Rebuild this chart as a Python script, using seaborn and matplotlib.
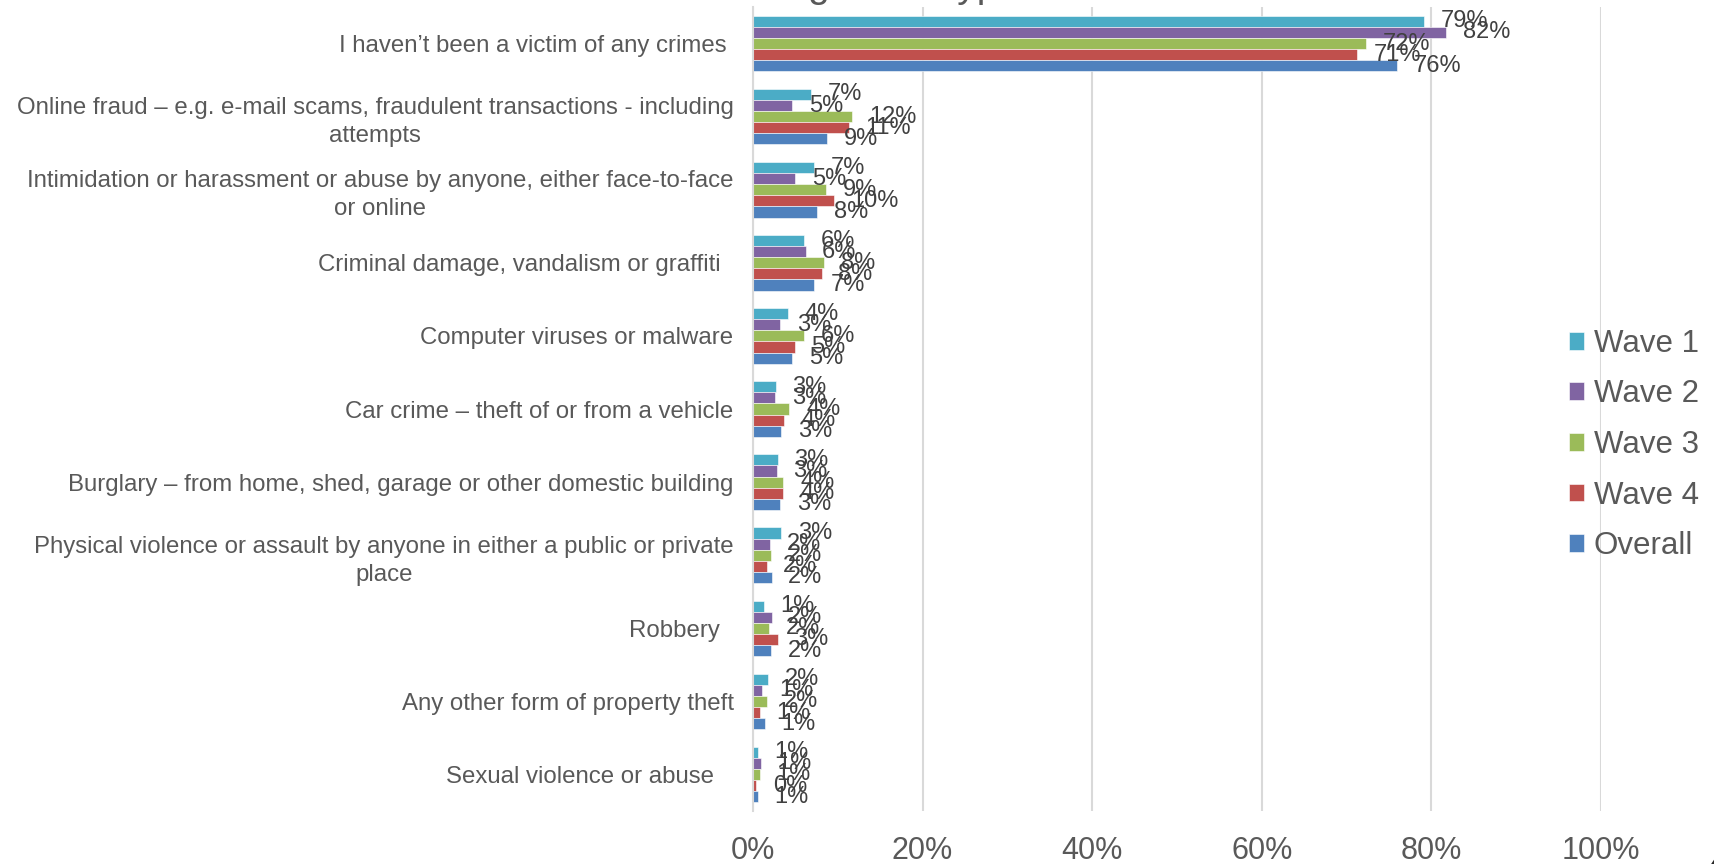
import pandas as pd
import matplotlib.pyplot as plt
import seaborn as sns

# --- Data ---
categories = [
    "I haven\u2019t been a victim of any crimes ",
    "Online fraud \u2013 e.g. e-mail scams, fraudulent transactions - including\nattempts",
    "Intimidation or harassment or abuse by anyone, either face-to-face\nor online",
    "Criminal damage, vandalism or graffiti  ",
    "Computer viruses or malware",
    "Car crime \u2013 theft of or from a vehicle",
    "Burglary \u2013 from home, shed, garage or other domestic building",
    "Physical violence or assault by anyone in either a public or private\nplace",
    "Robbery  ",
    "Any other form of property theft",
    "Sexual violence or abuse   ",
]
series = ["Wave 1", "Wave 2", "Wave 3", "Wave 4", "Overall"]

wave1   = [79.1, 6.9, 7.2, 6.0, 4.1, 2.7, 2.9, 3.3, 1.3, 1.8, 0.6]
wave2   = [81.7, 4.6, 5.0, 6.2, 3.2, 2.6, 2.8, 2.0, 2.2, 1.1, 0.9]
wave3   = [72.3, 11.7, 8.6, 8.4, 6.0, 4.3, 3.6, 2.1, 1.9, 1.7, 0.8]
wave4   = [71.2, 11.3, 9.6, 8.1, 4.9, 3.7, 3.6, 1.6, 2.9, 0.8, 0.4]
overall = [75.9, 8.7, 7.6, 7.2, 4.6, 3.3, 3.2, 2.2, 2.1, 1.4, 0.6]

colors = ["#4bacc6", "#8064a2", "#9bbb59", "#c0504d", "#4f81bd"]

rows = []
for name, vals in zip(series, [wave1, wave2, wave3, wave4, overall]):
    for cat, v in zip(categories, vals):
        rows.append({"category": cat, "series": name, "value": v})
df = pd.DataFrame(rows)

# --- Plot ---
sns.set_style("white")
plt.rcParams["font.family"] = ["Liberation Sans", "DejaVu Sans"]

fig = plt.figure(figsize=(17.14, 8.64), dpi=100)
ax = fig.add_axes([0.4393, 0.0613, 0.4948, 0.9306])

sns.barplot(
    data=df, x="value", y="category", hue="series",
    order=categories, hue_order=series, palette=colors,
    orient="h", width=0.76, saturation=1, errorbar=None,
    edgecolor="white", linewidth=0.4, ax=ax,
)

# value labels
for container in ax.containers:
    ax.bar_label(container, labels=[f"{w:.0f}%" for w in container.datavalues],
                 padding=12, fontsize=17, color="#404040")

ax.set_xlim(0, 100)
ax.set_ylim(10.5, -0.5)
ax.set_xticks([0, 20, 40, 60, 80, 100])
ax.set_xticklabels(["0%", "20%", "40%", "60%", "80%", "100%"])
ax.xaxis.grid(True, color="#d9d9d9", linewidth=1.5)
ax.set_axisbelow(True)
ax.tick_params(axis="x", length=0, pad=18, labelsize=22, labelcolor="#595959")
ax.tick_params(axis="y", length=0, pad=14, labelsize=17.3, labelcolor="#595959")
for lbl in ax.get_yticklabels():
    lbl.set_multialignment("center")
    lbl.set_linespacing(1.35)
for s in ["top", "right", "bottom"]:
    ax.spines[s].set_visible(False)
ax.spines["left"].set_color("#d9d9d9")
ax.spines["left"].set_linewidth(1.5)
ax.set_xlabel("")
ax.set_ylabel("")

ax.legend_.remove()
handles, labels = ax.get_legend_handles_labels()
fig.legend(handles, labels, loc="center left", bbox_to_anchor=(0.906, 0.485),
           frameon=False, fontsize=22.5, handlelength=0.5, handleheight=0.5,
           handletextpad=0.3, labelspacing=0.66, borderpad=0,
           labelcolor="#595959")

# title clipped at the top edge, page number clipped at the bottom
fig.text(0.5, 1.004, "Suffering crime types", ha="center", va="baseline",
         fontsize=28, color="#595959")
fig.text(0.9965, 0.0104, "4", ha="left", va="top", fontsize=20,
         color="#262626", fontweight="bold")

fig.savefig("out.png", dpi=100)
plt.close()
